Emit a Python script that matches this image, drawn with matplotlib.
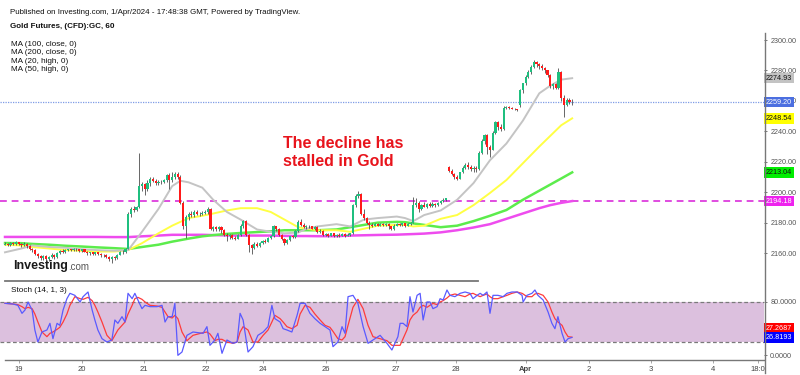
import matplotlib
matplotlib.use("Agg")
import matplotlib.pyplot as plt
from matplotlib.lines import Line2D
from matplotlib.transforms import blended_transform_factory
import numpy as np

plt.rcParams['font.family'] = ['Liberation Sans', 'DejaVu Sans']

# ---------------- data (hourly bars, index = bar number) ----------------
opens = [
    2165.5, 2166, 2165, 2166.5, 2166, 2167, 2166, 2165, 2166, 2164.5,
    2163, 2162, 2159.5, 2158, 2156.5, 2158, 2156, 2157.5, 2159, 2157.5,
    2160, 2161.5, 2160.5, 2162, 2162.5, 2162, 2163, 2162.5, 2161.5, 2162.5,
    2161, 2160, 2160.5, 2159.5, 2160.5, 2159.5, 2158.5, 2159, 2157.5, 2156,
    2157.5, 2156.5, 2159, 2161, 2160.5, 2163, 2186, 2189, 2188, 2190,
    2204, 2205.5, 2202, 2206, 2209, 2207.5, 2206, 2207, 2206.5, 2208,
    2211, 2208, 2210, 2212, 2210, 2193, 2178, 2184, 2186, 2185,
    2187, 2186, 2185.5, 2186.5, 2187, 2189, 2176, 2177, 2175.5, 2177,
    2175, 2172, 2171, 2172, 2170, 2169.5, 2172, 2178, 2181, 2172,
    2165, 2163.5, 2166, 2164.5, 2166.5, 2168, 2167.5, 2170, 2171, 2177.5,
    2176, 2172, 2169.5, 2166.5, 2168.5, 2171, 2170.5, 2174.5, 2180.5, 2178.5,
    2177, 2178, 2177.5, 2176, 2177, 2174, 2174.5, 2172, 2172.5, 2171.5,
    2173, 2171, 2172, 2171.5, 2172.5, 2171.5, 2172, 2173, 2191.5, 2197.5,
    2199, 2186, 2183, 2180, 2178.5, 2178, 2179, 2178, 2179, 2178.5,
    2179, 2177.5, 2175.5, 2178, 2179, 2178.5, 2179.5, 2178, 2179, 2180,
    2191.5, 2193, 2189, 2191.5, 2190.5, 2192.5, 2191, 2192.5, 2191.5, 2193,
    2194, 2195, 2216.5, 2214, 2212, 2210, 2209, 2213, 2216, 2218,
    2216.5, 2215, 2216, 2215, 2226, 2233.5, 2237.5, 2230, 2228, 2239,
    2246, 2243, 2241.5, 2255.5, 2256, 2255.5, 2255, 2254.5, 2257, 2267,
    2271.5, 2276, 2279, 2282, 2285.5, 2284, 2283, 2281.5, 2280, 2277,
    2269.5, 2271, 2268.5, 2279, 2262, 2257.5, 2260.5, 2259.5]
closes = [
    2166, 2165, 2166.5, 2166, 2167, 2166, 2165, 2166, 2164.5, 2163,
    2162, 2159.5, 2158, 2156.5, 2158, 2156, 2157.5, 2159, 2157.5, 2160,
    2161.5, 2160.5, 2162, 2162.5, 2162, 2163, 2162.5, 2161.5, 2162.5, 2161,
    2160, 2160.5, 2159.5, 2160.5, 2159.5, 2158.5, 2159, 2157.5, 2156, 2157.5,
    2156.5, 2159, 2161, 2160.5, 2163, 2186, 2189, 2188, 2190, 2204,
    2205.5, 2202, 2206, 2209, 2207.5, 2206, 2207, 2206.5, 2208, 2211,
    2208, 2210, 2212, 2210, 2193, 2178, 2184, 2186, 2185, 2187,
    2186, 2185.5, 2186.5, 2187, 2189, 2176, 2177, 2175.5, 2177, 2175,
    2172, 2171, 2172, 2170, 2169.5, 2172, 2178, 2181, 2172, 2165,
    2163.5, 2166, 2164.5, 2166.5, 2168, 2167.5, 2170, 2171, 2177.5, 2176,
    2172, 2169.5, 2166.5, 2168.5, 2171, 2170.5, 2174.5, 2180.5, 2178.5, 2177,
    2178, 2177.5, 2176, 2177, 2174, 2174.5, 2172, 2172.5, 2171.5, 2173,
    2171, 2172, 2171.5, 2172.5, 2171.5, 2172, 2173, 2191.5, 2197.5, 2199,
    2186, 2183, 2180, 2178.5, 2178, 2179, 2178, 2179, 2178.5, 2179,
    2177.5, 2175.5, 2178, 2179, 2178.5, 2179.5, 2178, 2179, 2180, 2191.5,
    2193, 2189, 2191.5, 2190.5, 2192.5, 2191, 2192.5, 2191.5, 2193, 2194,
    2195, 2196, 2214, 2212, 2210, 2209, 2213, 2216, 2218, 2216.5,
    2215, 2216, 2215, 2226, 2233.5, 2237.5, 2230, 2228, 2239, 2246,
    2243, 2241.5, 2255.5, 2256, 2255.5, 2255, 2254.5, 2254, 2267, 2271.5,
    2276, 2279, 2282, 2285.5, 2284, 2283, 2281.5, 2280, 2277, 2269.5,
    2271, 2268.5, 2279, 2262, 2257.5, 2260.5, 2259.5, 2259.2]
highs = [
    2167, 2166.5, 2167, 2167.5, 2168, 2167.5, 2166.5, 2167, 2166.5, 2165,
    2163.5, 2162.5, 2160, 2158.5, 2158.5, 2158.5, 2158, 2160, 2159.5, 2160.5,
    2162, 2162.5, 2162.5, 2163, 2163, 2163.5, 2163.5, 2163, 2163, 2163,
    2161.5, 2161, 2161, 2161, 2161, 2160, 2159.5, 2159.5, 2158, 2158,
    2158, 2159.5, 2161.5, 2162, 2163.5, 2187, 2190, 2191, 2191, 2225.5,
    2207, 2206, 2208, 2210, 2210, 2209, 2208, 2208, 2209, 2212,
    2212.5, 2213, 2213, 2213.5, 2211, 2194, 2185, 2187, 2187.5, 2188,
    2188, 2187, 2187.5, 2188.5, 2190, 2189.5, 2178, 2178, 2177.5, 2177.5,
    2175.5, 2173, 2172.5, 2172.5, 2171, 2172.5, 2179, 2182, 2181.5, 2172.5,
    2166, 2167, 2167, 2167, 2168.5, 2169, 2170.5, 2172, 2178.5, 2178,
    2176.5, 2172.5, 2170, 2169, 2171.5, 2172, 2175, 2182, 2182.5, 2179.5,
    2178.5, 2178.5, 2178, 2177.5, 2177.5, 2175.5, 2175, 2173.5, 2173, 2173.5,
    2173.5, 2172.5, 2173, 2173, 2173, 2173, 2173.5, 2192.5, 2198.5, 2201,
    2199.5, 2189, 2184, 2181, 2179.5, 2179.5, 2179.5, 2180, 2179.5, 2179.5,
    2179.5, 2178, 2179, 2179.5, 2180, 2180, 2180, 2180, 2180.5, 2197,
    2196, 2194, 2192.5, 2193.5, 2193, 2193.5, 2193.5, 2193, 2193.5, 2195,
    2196, 2196.5, 2217, 2215, 2212.5, 2211, 2213.5, 2217, 2219.5, 2220,
    2218, 2217, 2217, 2227, 2235, 2238.5, 2238, 2231, 2240, 2247,
    2246.5, 2244.5, 2256.5, 2256.5, 2256.5, 2256, 2255.5, 2255, 2268, 2272,
    2277, 2280, 2283.5, 2287, 2286.5, 2285, 2284.5, 2282, 2280.5, 2278,
    2272, 2272, 2281.5, 2279.5, 2264, 2262, 2262, 2261]
lows = [
    2165, 2164.5, 2164.5, 2165.5, 2165.5, 2165, 2164, 2164.5, 2163.5, 2162,
    2160.5, 2158.5, 2157, 2155.5, 2155.5, 2155, 2154.5, 2156.5, 2156, 2157,
    2159.5, 2160, 2160, 2161.5, 2161.5, 2161.5, 2161.5, 2160.5, 2161, 2160.5,
    2159, 2159, 2158.5, 2159, 2158.5, 2157.5, 2157.5, 2156.5, 2155, 2153.5,
    2155.5, 2156, 2158.5, 2159.5, 2160, 2162.5, 2184, 2187, 2187.5, 2189.5,
    2201, 2198, 2201, 2204, 2206.5, 2205, 2205, 2205.5, 2206, 2207,
    2202, 2207, 2209, 2209, 2192, 2176, 2170, 2182, 2184, 2184,
    2185, 2184.5, 2185, 2186, 2186, 2175, 2174.5, 2174.5, 2174.5, 2173.5,
    2171, 2168, 2169.5, 2169, 2168.5, 2169, 2171.5, 2176.5, 2171, 2161,
    2159.5, 2162.5, 2164, 2164, 2166, 2166.5, 2167, 2169, 2170.5, 2174.5,
    2171, 2168.5, 2165.5, 2166, 2168, 2170, 2170, 2174, 2178, 2176.5,
    2176, 2176.5, 2175.5, 2175, 2173.5, 2173, 2171, 2171, 2170.5, 2171,
    2170.5, 2170.5, 2170.5, 2171, 2170.5, 2171, 2171.5, 2172.5, 2190.5, 2196,
    2185, 2182, 2179, 2176, 2177, 2177.5, 2177.5, 2177.5, 2178, 2177.5,
    2176, 2175, 2175, 2177.5, 2177.5, 2178, 2177, 2177.5, 2178.5, 2179.5,
    2190, 2187, 2188, 2190, 2189.5, 2190, 2190.5, 2190.5, 2191, 2192.5,
    2193.5, 2194, 2213.5, 2211, 2209, 2208, 2208.5, 2212.5, 2215, 2215,
    2214, 2213, 2213.5, 2214.5, 2225, 2232, 2225, 2223, 2227.5, 2238,
    2241, 2240.5, 2241, 2254.5, 2255, 2254.5, 2254, 2253.5, 2256, 2265,
    2270.5, 2275, 2278, 2281.5, 2282.5, 2281, 2280.5, 2278.5, 2276, 2268.5,
    2268, 2267.5, 2267.5, 2260, 2249.5, 2256.5, 2258, 2257.5]

# moving averages sampled at bar numbers
ma_t = [0, 6, 10, 16, 22, 28, 33, 40, 45, 50, 56, 61, 64, 67, 72, 76, 81, 86, 92, 97,
        102, 107, 110, 114, 121, 126, 131, 136, 143, 146, 149, 153, 159, 165, 171, 177,
        183, 189, 195, 199, 203, 207]
ma20_high = [2160.5, 2163, 2165, 2164, 2163.5, 2162.5, 2162, 2161.5, 2162, 2174,
             2189, 2204, 2207.5, 2206.5, 2203, 2195, 2187, 2182, 2175.5, 2174,
             2173, 2173.5, 2176, 2177.5, 2179, 2177.5, 2182, 2183, 2184, 2183,
             2181, 2185, 2188, 2195, 2206, 2221, 2232, 2247, 2265, 2270,
             2274, 2274.93]
ma50_high = [2165.5, 2165, 2164, 2163, 2162, 2161.5, 2161, 2161, 2162, 2166.5,
             2173, 2178, 2180.5, 2183, 2184.5, 2186, 2188, 2189.5, 2189.5, 2187,
             2182, 2177, 2176, 2175, 2175, 2174, 2176, 2178, 2178.5, 2178.5,
             2177.5, 2178, 2182.5, 2185, 2191.5, 2199.5, 2208, 2219, 2230, 2237,
             2244, 2248.54]
ma100_close = [2166.6, 2166.5, 2166, 2165.5, 2164.8, 2164.3, 2163.8, 2163.2, 2162.7, 2164,
               2165.5, 2167.5, 2168.5, 2169.5, 2171, 2171.8, 2172.6, 2173.2, 2173.8, 2174.3,
               2175, 2175, 2175, 2175, 2175.5, 2177, 2178.5, 2180, 2180.5, 2180.3,
               2179.5, 2178.5, 2177, 2178, 2181, 2184.5, 2188.3, 2195, 2201, 2205,
               2209, 2213.04]
ma200_close = [2170.6, 2170.6, 2170.6, 2170.6, 2170.6, 2170.6, 2170.6, 2170.5, 2170.5, 2171,
               2171.5, 2172, 2172, 2172, 2172, 2171.8, 2171.6, 2171.5, 2171.5, 2171.5,
               2171.3, 2171.2, 2171.2, 2171.1, 2171.1, 2171.5, 2171.7, 2171.9, 2172.1, 2172.3,
               2172.5, 2172.8, 2173.6, 2175, 2176.8, 2179, 2182.5, 2186, 2189.5, 2191.5,
               2193, 2194.18]

# stochastic (14,1,3), sampled at bar numbers
st_t = [0, 2.9, 4.7, 6.2, 7.3, 8.4, 9.9, 10.9, 12, 13.5, 15.3, 16.4, 17.5, 19, 20, 21.2,
        22.6, 23.7, 25.5, 27.4, 28.5, 30.3, 31.8, 32.8, 33.9, 35.4, 37.2, 39, 40.1, 41.2,
        42.7, 43.8, 44.9, 46.4, 47.4, 48.5, 50, 51.1, 52.9, 55.5, 57.3, 58.4, 59.5, 61, 62,
        63.1, 64.6, 66.4, 68.6, 72.3, 73.7, 74.8, 76.6, 77.7, 79.2, 81, 83.2, 84.7, 85.8,
        86.9, 88.7, 90.5, 92.3, 94.2, 96, 97.4, 98.5, 100.4, 101.5, 102.9, 104.7, 106.6,
        107.7, 109.5, 111.3, 113.1, 115, 116.8, 118.6, 119.7, 121.5, 123, 124.1, 125.2, 127,
        128.8, 130.7, 132.5, 134.3, 136.9, 139.4, 141.2, 143.4, 144.2, 145.3, 146.7, 147.8,
        148.9, 150.4, 151.5, 152.6, 154, 155.1, 156.2, 157.7, 158.8, 159.9, 161.3, 162.4,
        164.2, 166.1, 167.9, 169.7, 170.8, 172.3, 173.4, 174.5, 175.9, 177, 178.1, 179.9,
        181.8, 183.2, 185, 186.9, 188.7, 189.1, 190.5, 192.3, 193.4, 194.5, 196.4, 198.2,
        199.6, 200.7, 201.8, 203.3, 204.4, 205.5, 206.9]
st_k = [78, 77, 75, 63, 68, 80, 68, 38, 20, 35, 38, 48, 25, 48, 45, 68, 85, 93, 90, 80,
        88, 95, 68, 53, 38, 25, 20, 23, 53, 48, 58, 50, 93, 85, 93, 83, 70, 75, 73, 73,
        75, 50, 58, 58, 78, 0, 5, 30, 35, 33, 43, 15, 23, 33, 3, 23, 18, 20, 63, 53,
        5, 13, 30, 35, 43, 75, 55, 50, 40, 38, 35, 60, 78, 78, 63, 55, 48, 43, 38, 13,
        20, 43, 33, 88, 90, 78, 43, 18, 23, 30, 18, 8, 28, 48, 48, 43, 88, 65, 90, 93,
        53, 80, 80, 70, 73, 85, 83, 98, 90, 88, 93, 95, 93, 85, 90, 93, 90, 95, 63, 90,
        90, 88, 93, 95, 95, 90, 80, 90, 93, 98, 90, 83, 65, 48, 40, 58, 33, 20, 25, 26.8193]
st_d = [78, 77, 76, 73, 70, 72, 70, 62, 50, 35, 28, 33, 35, 39, 42, 50, 62, 75, 88, 85,
        84, 87, 82, 75, 65, 50, 30, 22, 30, 38, 45, 50, 62, 75, 85, 87, 84, 80, 75, 74,
        72, 65, 58, 56, 60, 55, 35, 22, 30, 34, 35, 32, 22, 24, 24, 20, 18, 20, 35, 43,
        38, 20, 20, 30, 38, 50, 60, 55, 50, 43, 40, 45, 62, 75, 72, 62, 53, 45, 42, 36,
        25, 23, 28, 45, 72, 84, 70, 45, 28, 25, 22, 15, 15, 15, 25, 38, 53, 60, 65, 72,
        75, 72, 75, 78, 76, 80, 82, 86, 90, 92, 90, 88, 92, 93, 90, 88, 90, 92, 88, 85,
        85, 88, 90, 93, 95, 93, 92, 88, 88, 92, 93, 90, 80, 65, 55, 50, 45, 35, 28, 27.2687]

day_ticks = [5.1, 28.1, 50.7, 73.2, 94.2, 117, 142.7, 164.6, 190.1, 213.1, 235.8, 258.4, 274.8]
day_labels = ['19', '20', '21', '22', '24', '26', '27', '28', 'Apr', '2', '3', '4', '18:0']

price_labels = [  # (value, face colour, text colour)
    (2274.93, '#c3c3c3', '#111111'),
    (2259.20, '#4c6fe0', '#ffffff'),
    (2248.54, '#ffff00', '#111111'),
    (2213.04, '#00ee00', '#111111'),
    (2194.18, '#ee22ee', '#ffffff'),
]
last_price = 2259.20
ma200_last = 2194.18

# ---------------- figure ----------------
W, H = 800, 375
fig = plt.figure(figsize=(W / 100, H / 100), dpi=100)
fig.patch.set_facecolor('white')

def fx(px):
    return px / W

def fy(py):
    return 1 - py / H

axr = 764
ax = fig.add_axes([0, fy(280), fx(axr), fy(30) - fy(280)])
ax2 = fig.add_axes([0, fy(360), fx(axr), fy(281) - fy(360)])

n = len(closes)
idx = np.arange(n)
o = np.array(opens); c = np.array(closes); h = np.array(highs); l = np.array(lows)
xmin, xmax = -5 / 2.74, (axr - 5) / 2.74
for a in (ax, ax2):
    a.set_xlim(xmin, xmax)
    for s in a.spines.values():
        s.set_visible(False)
    a.set_facecolor('none')

ax.set_ylim(2142.3, 2306.6)

# moving averages
ax.plot(ma_t, ma200_close, color='#ee4cee', lw=1.8, zorder=2)
ax.plot(ma_t, ma100_close, color='#5cec4c', lw=1.8, zorder=2)
ax.plot(ma_t, ma50_high, color='#ffff44', lw=1.4, zorder=2)
ax.plot(ma_t, ma20_high, color='#c4c4c4', lw=1.4, zorder=2)

# horizontal reference lines
ax.axhline(last_price, color='#7e9ce6', lw=0.9, ls=(0, (1, 1)), zorder=1)
ax.axhline(ma200_last, color='#e04ce0', lw=1.4, ls=(0, (3.5, 2.5)), zorder=1)

# candles
up = c >= o
colors = np.where(up, '#1fbf7f', '#ff1a1a')
ax.vlines(idx, l, h, color='#4d4d4d', lw=0.6, zorder=3)
body_bot = np.minimum(o, c)
body_h = np.maximum(np.abs(c - o), 0.35)
ax.bar(idx, body_h, bottom=body_bot, width=0.78, color=colors, linewidth=0, zorder=4)

# right price axis
ax.yaxis.tick_right()
ax.set_yticks(np.arange(2160, 2301, 20))
ax.yaxis.set_major_formatter(plt.FuncFormatter(lambda v, p: f'{v:.2f}'))
ax.tick_params(axis='y', direction='out', length=2.5, width=0.7, color='#777777',
               labelsize=5.2, labelcolor='#555555', pad=2)
ax.set_xticks([])

tr = blended_transform_factory(ax.transAxes, ax.transData)
for v, fc, tc in price_labels:
    ax.text(1.0 + 2 / axr, v, f'{v:.2f}', transform=tr, ha='left', va='center',
            fontsize=5.2, color=tc, clip_on=False, zorder=10,
            bbox=dict(boxstyle='square,pad=0.25', fc=fc, ec='none'))

# stochastic panel
ax2.set_ylim(-7, 111.5)
ax2.axhspan(20, 80, color='#dcc0de', lw=0, zorder=0)
for lev in (20, 80):
    ax2.axhline(lev, color='#7a7a7a', lw=0.9, ls=(0, (3, 2)), zorder=1)
ax2.plot(st_t, st_d, color='#ff3b3b', lw=0.9, zorder=3)
ax2.plot(st_t, st_k, color='#5a5aff', lw=0.9, zorder=4)
ax2.yaxis.tick_right()
ax2.set_yticks([0, 80])
ax2.yaxis.set_major_formatter(plt.FuncFormatter(lambda v, p: f'{v:.4f}'))
ax2.tick_params(axis='y', direction='out', length=2.5, width=0.7, color='#777777',
                labelsize=5.2, labelcolor='#555555', pad=2)
ax2.set_xticks(day_ticks)
ax2.set_xticklabels(day_labels)
ax2.tick_params(axis='x', length=2, width=0.6, color='#999999', labelsize=5.5,
                labelcolor='#444444', pad=2)
for lab in ax2.get_xticklabels():
    if lab.get_text() == 'Apr':
        lab.set_fontweight('bold')

tr2 = blended_transform_factory(ax2.transAxes, ax2.transData)
k_last, d_last = st_k[-1], st_d[-1]
ax2.text(1.0 + 2 / axr, d_last + 13, f'{d_last:.4f}', transform=tr2, ha='left', va='center',
         fontsize=5.2, color='white', clip_on=False, zorder=10,
         bbox=dict(boxstyle='square,pad=0.25', fc='#ff0000', ec='none'))
ax2.text(1.0 + 2 / axr, k_last, f'{k_last:.4f}', transform=tr2, ha='left', va='center',
         fontsize=5.2, color='white', clip_on=False, zorder=10,
         bbox=dict(boxstyle='square,pad=0.25', fc='#0000ff', ec='none'))

# axis lines & separators
fig.add_artist(Line2D([fx(axr + 0.5)] * 2, [fy(33), fy(373)], color='#777777', lw=1.0))
fig.add_artist(Line2D([fx(5), fx(axr)], [fy(360.3)] * 2, color='#777777', lw=1.0))
fig.add_artist(Line2D([fx(5), fx(478)], [fy(280.7)] * 2, color='#777777', lw=1.3))

# header texts
fig.text(fx(10), fy(12), 'Published on Investing.com, 1/Apr/2024 - 17:48:38 GMT, Powered by TradingView.',
         fontsize=5.7, va='center', color='#111111')
fig.text(fx(10), fy(27), 'Gold Futures, (CFD):GC, 60', fontsize=5.8, weight='bold', va='center',
         color='#111111')
for k, s in enumerate(['MA (100, close, 0)', 'MA (200, close, 0)', 'MA (20, high, 0)', 'MA (50, high, 0)']):
    fig.text(fx(11), fy(44.5 + 8.3 * k), s, fontsize=5.9, va='center', color='#111111')

fig.text(fx(11), fy(290), 'Stoch (14, 1, 3)', fontsize=5.9, va='center', color='#111111')

# annotation
fig.text(fx(283), fy(143), 'The decline has', fontsize=11.5, weight='bold', color='#e8141c', va='center')
fig.text(fx(283), fy(161), 'stalled in Gold', fontsize=11.5, weight='bold', color='#e8141c', va='center')

# logo
fig.text(fx(13), fy(266), 'Investing', fontsize=9, weight='bold', color='#1a1a1a', va='center')
fig.text(fx(68.5), fy(267), '.com', fontsize=7, color='#555555', va='center')

fig.savefig('out.png', dpi=100)
